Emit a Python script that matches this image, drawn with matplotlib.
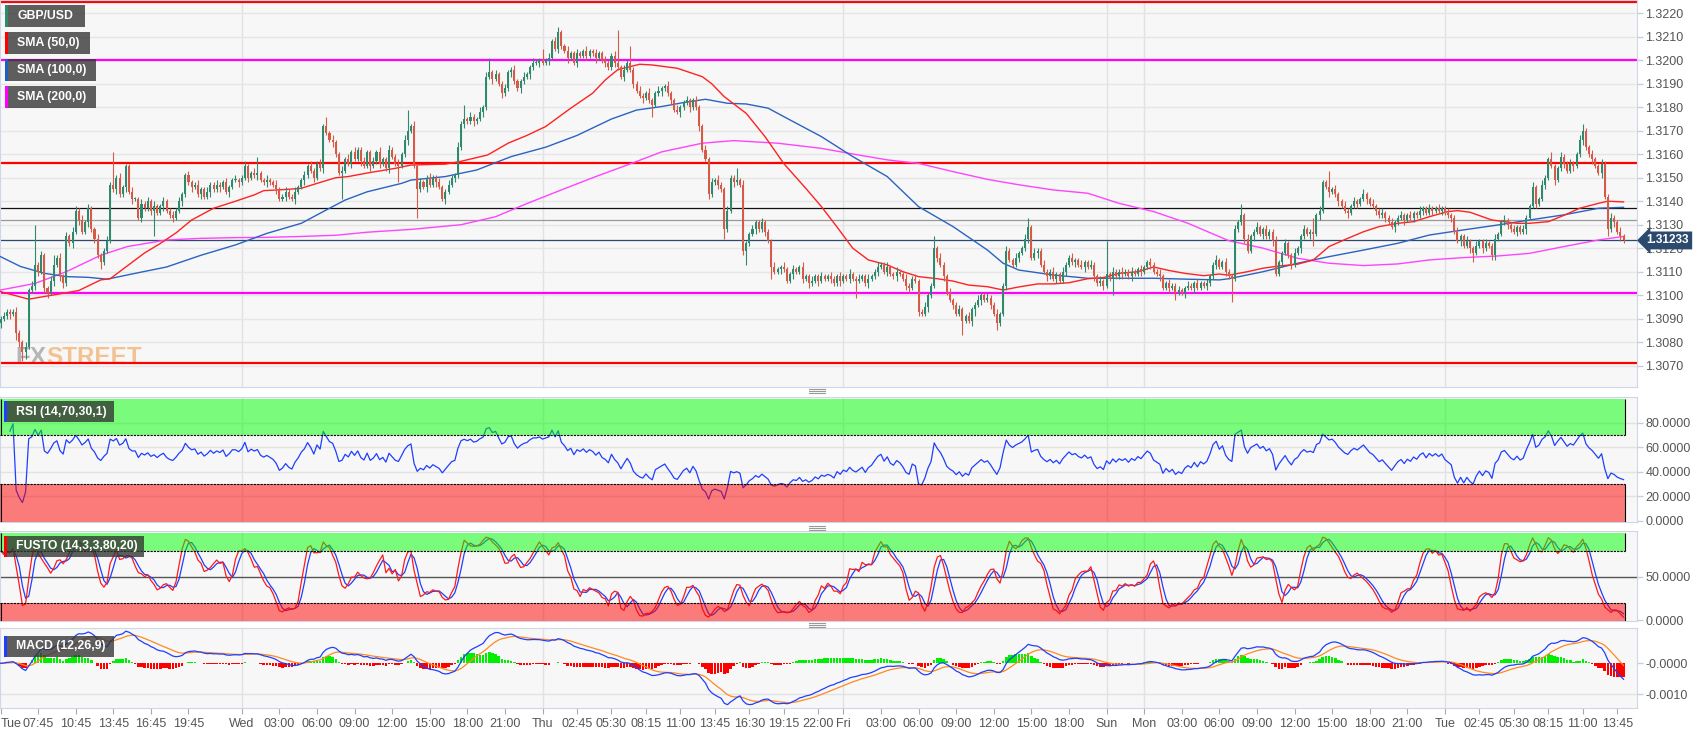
import numpy as np
import pandas as pd
import matplotlib.pyplot as plt
from matplotlib.patches import Rectangle
from matplotlib.lines import Line2D

plt.rcParams['font.family'] = ['Liberation Sans', 'DejaVu Sans']

W, H = 1707, 734

# GBP/USD 15-min candles, prices in pips above 1.3000
first_open = 88
closes = [
    90, 91, 93, 92, 93, 84, 80, 76, 78, 102, 104, 113,
    110, 117, 103, 101, 106, 113, 116, 108, 105, 125, 122, 127,
    136, 132, 127, 131, 137, 128, 124, 117, 114, 119, 123, 147,
    145, 150, 143, 146, 155, 144, 141, 141, 133, 139, 137, 140,
    136, 138, 135, 138, 140, 136, 134, 133, 136, 140, 143, 151,
    148, 146, 147, 143, 145, 142, 144, 147, 145, 147, 146, 148,
    144, 146, 149, 149, 148, 150, 155, 150, 152, 151, 152, 149,
    148, 149, 148, 147, 145, 141, 142, 144, 142, 141, 144, 146,
    149, 151, 155, 153, 150, 156, 154, 172, 169, 166, 165, 160,
    152, 153, 158, 156, 161, 158, 162, 157, 155, 161, 155, 157,
    161, 156, 158, 154, 162, 159, 156, 155, 160, 166, 170, 172,
    155, 145, 148, 146, 150, 147, 150, 148, 146, 141, 144, 147,
    150, 151, 163, 173, 175, 174, 176, 174, 175, 178, 180, 193,
    195, 192, 194, 190, 186, 188, 195, 196, 191, 188, 191, 193,
    194, 197, 199, 199, 200, 199, 200, 201, 208, 205, 212, 206,
    204, 201, 203, 199, 203, 202, 204, 202, 204, 203, 201, 203,
    200, 199, 197, 202, 199, 197, 193, 196, 199, 196, 190, 187,
    185, 184, 186, 183, 181, 186, 187, 188, 189, 186, 183, 179,
    178, 180, 182, 183, 180, 183, 180, 172, 162, 158, 143, 148,
    149, 147, 145, 128, 136, 150, 148, 149, 147, 119, 122, 126,
    128, 131, 128, 131, 127, 123, 112, 110, 111, 112, 111, 106,
    109, 111, 110, 112, 107, 108, 105, 106, 108, 106, 108, 107,
    108, 107, 105, 108, 106, 108, 107, 109, 107, 106, 107, 108,
    105, 107, 108, 110, 112, 113, 110, 112, 109, 108, 110, 109,
    107, 104, 103, 107, 106, 93, 92, 95, 100, 104, 120, 116,
    113, 108, 101, 98, 96, 92, 94, 89, 91, 89, 94, 96,
    98, 100, 98, 99, 96, 92, 88, 92, 104, 119, 115, 113,
    116, 118, 120, 124, 129, 116, 118, 119, 113, 110, 108, 110,
    107, 109, 106, 110, 113, 116, 114, 115, 113, 112, 114, 112,
    113, 108, 105, 106, 104, 109, 107, 110, 108, 110, 109, 110,
    108, 110, 109, 111, 110, 112, 114, 113, 110, 109, 108, 103,
    105, 103, 104, 101, 102, 101, 103, 104, 103, 105, 103, 105,
    104, 105, 108, 113, 115, 112, 114, 110, 108, 107, 128, 131,
    134, 124, 119, 125, 127, 129, 126, 128, 125, 127, 123, 109,
    114, 118, 122, 117, 113, 118, 120, 125, 128, 126, 127, 126,
    134, 136, 148, 146, 144, 145, 143, 140, 138, 136, 135, 138,
    140, 139, 141, 143, 141, 139, 138, 136, 134, 135, 133, 131,
    129, 131, 133, 134, 132, 134, 133, 135, 134, 136, 137, 135,
    137, 136, 137, 136, 137, 135, 134, 133, 127, 123, 125, 121,
    123, 120, 118, 121, 123, 120, 122, 121, 117, 124, 126, 131,
    132, 130, 128, 127, 129, 127, 128, 133, 138, 146, 139, 141,
    147, 150, 158, 155, 149, 154, 159, 156, 153, 156, 155, 160,
    166, 170, 163, 160, 158, 155, 152, 156, 142, 128, 133, 131,
    127, 125, 123.3,
]
upper_wick = [
    1, 2, 1, 1, 1, 2, 1, 1, 2, 1, 2, 17,
    1, 2, 1, 1, 2, 4, 1, 2, 1, 2, 1, 2,
    2, 1, 2, 1, 2, 1, 1, 2, 1, 1, 2, 1,
    14, 1, 2, 1, 1, 1, 2, 1, 1, 2, 1, 2,
    1, 2, 1, 1, 2, 1, 1, 2, 1, 2, 1, 1,
    2, 1, 1, 2, 1, 1, 2, 1, 1, 2, 1, 1,
    2, 1, 1, 2, 1, 1, 2, 1, 1, 2, 7, 1,
    1, 2, 1, 1, 2, 1, 1, 2, 1, 1, 2, 1,
    1, 2, 1, 2, 1, 1, 2, 1, 4, 1, 2, 1,
    1, 2, 1, 2, 1, 2, 1, 1, 2, 1, 1, 2,
    1, 2, 1, 1, 2, 1, 1, 2, 1, 2, 9, 1,
    2, 1, 2, 1, 1, 2, 1, 1, 2, 1, 1, 2,
    1, 1, 2, 1, 6, 1, 2, 1, 1, 2, 1, 2,
    6, 1, 2, 1, 1, 2, 1, 1, 2, 1, 1, 2,
    1, 1, 2, 1, 1, 5, 1, 2, 1, 2, 2, 1,
    1, 2, 1, 1, 2, 1, 1, 2, 1, 1, 2, 1,
    1, 2, 1, 1, 2, 14, 1, 2, 1, 7, 1, 1,
    2, 1, 1, 2, 1, 1, 2, 1, 1, 2, 1, 1,
    2, 1, 1, 2, 1, 1, 2, 1, 1, 2, 1, 2,
    1, 2, 1, 1, 2, 1, 1, 5, 1, 2, 1, 1,
    2, 1, 1, 2, 1, 1, 1, 2, 1, 1, 2, 1,
    1, 2, 1, 1, 2, 1, 1, 2, 1, 1, 2, 1,
    1, 2, 1, 1, 2, 1, 1, 2, 1, 1, 2, 1,
    1, 2, 1, 1, 2, 1, 1, 2, 1, 1, 2, 1,
    1, 2, 1, 1, 2, 1, 1, 2, 1, 1, 5, 1,
    2, 1, 1, 2, 1, 1, 2, 1, 1, 2, 1, 1,
    2, 1, 1, 2, 1, 1, 2, 1, 1, 2, 1, 1,
    2, 1, 1, 2, 4, 1, 2, 1, 1, 2, 1, 1,
    2, 1, 1, 2, 1, 1, 2, 1, 1, 2, 1, 1,
    2, 1, 1, 2, 1, 14, 1, 2, 1, 1, 2, 1,
    1, 2, 1, 1, 2, 1, 1, 2, 1, 1, 2, 1,
    1, 2, 1, 1, 2, 1, 1, 2, 1, 1, 2, 1,
    1, 2, 1, 1, 2, 1, 1, 2, 1, 1, 2, 1,
    5, 1, 2, 1, 1, 2, 1, 1, 2, 1, 1, 2,
    1, 1, 2, 1, 1, 2, 1, 1, 2, 1, 1, 6,
    1, 2, 1, 1, 7, 1, 2, 1, 1, 2, 1, 1,
    2, 1, 1, 2, 1, 1, 2, 1, 1, 2, 1, 1,
    2, 1, 1, 2, 1, 1, 2, 1, 1, 2, 1, 1,
    2, 1, 1, 2, 1, 1, 2, 1, 1, 2, 1, 1,
    2, 1, 1, 2, 1, 1, 2, 1, 1, 2, 1, 1,
    2, 1, 1, 2, 1, 1, 2, 1, 1, 2, 1, 1,
    2, 1, 1, 3, 1, 1, 2, 1, 1, 2, 1, 1,
    2, 3, 1, 1, 2, 1, 1, 2, 1, 1, 2, 1,
    1, 2, 1,
]
lower_wick = [
    2, 1, 1, 2, 1, 3, 2, 4, 3, 1, 1, 2,
    2, 1, 2, 2, 1, 2, 1, 2, 2, 1, 1, 2,
    1, 2, 1, 1, 2, 1, 2, 1, 3, 1, 1, 1,
    1, 2, 1, 1, 2, 1, 2, 1, 1, 2, 1, 1,
    2, 11, 1, 1, 2, 1, 1, 2, 1, 1, 2, 1,
    1, 2, 1, 1, 2, 1, 1, 2, 1, 1, 2, 1,
    1, 2, 1, 1, 2, 1, 1, 2, 1, 1, 2, 1,
    1, 2, 1, 1, 2, 1, 1, 2, 1, 1, 2, 1,
    1, 2, 1, 1, 2, 1, 1, 2, 1, 1, 2, 1,
    1, 11, 1, 1, 2, 1, 1, 2, 1, 1, 2, 1,
    1, 2, 1, 1, 2, 1, 1, 7, 1, 1, 2, 1,
    1, 12, 1, 1, 2, 1, 1, 2, 1, 1, 2, 1,
    1, 2, 1, 1, 2, 1, 1, 2, 1, 1, 2, 1,
    1, 2, 1, 1, 2, 1, 1, 2, 1, 1, 2, 1,
    1, 2, 1, 1, 2, 1, 1, 2, 1, 1, 2, 1,
    1, 2, 1, 1, 2, 1, 1, 2, 1, 1, 2, 1,
    1, 2, 1, 1, 2, 1, 1, 2, 1, 1, 2, 1,
    1, 2, 1, 1, 5, 1, 1, 2, 1, 1, 2, 1,
    1, 2, 1, 1, 2, 1, 1, 2, 1, 1, 2, 1,
    1, 2, 1, 4, 1, 1, 2, 1, 1, 2, 6, 1,
    1, 2, 1, 1, 2, 1, 5, 1, 1, 2, 1, 1,
    1, 2, 1, 1, 2, 1, 2, 1, 1, 2, 1, 1,
    1, 2, 1, 1, 2, 1, 1, 2, 1, 7, 1, 1,
    1, 2, 1, 1, 2, 1, 1, 2, 1, 1, 2, 1,
    1, 2, 2, 1, 1, 2, 1, 1, 2, 1, 1, 2,
    1, 2, 1, 1, 2, 1, 1, 6, 1, 1, 2, 3,
    1, 2, 1, 1, 2, 1, 3, 1, 1, 2, 1, 1,
    1, 2, 1, 1, 2, 1, 1, 2, 1, 1, 2, 1,
    1, 2, 1, 1, 2, 1, 1, 2, 1, 1, 2, 1,
    1, 2, 1, 1, 2, 1, 1, 7, 1, 1, 2, 1,
    1, 2, 1, 1, 2, 1, 1, 2, 1, 1, 2, 1,
    1, 2, 1, 3, 1, 1, 2, 1, 1, 2, 1, 1,
    1, 2, 1, 1, 2, 1, 1, 2, 1, 10, 1, 1,
    1, 2, 1, 1, 2, 1, 1, 2, 1, 1, 2, 1,
    1, 2, 1, 1, 2, 1, 1, 2, 1, 1, 2, 5,
    1, 2, 1, 1, 2, 1, 1, 2, 1, 1, 2, 1,
    1, 2, 1, 1, 2, 1, 1, 2, 1, 1, 2, 1,
    1, 2, 1, 1, 2, 1, 1, 2, 1, 1, 2, 1,
    1, 2, 1, 1, 2, 1, 1, 2, 1, 1, 2, 1,
    1, 2, 4, 1, 1, 2, 1, 1, 2, 2, 1, 1,
    1, 2, 1, 1, 2, 1, 1, 2, 1, 1, 2, 1,
    1, 2, 1, 1, 2, 1, 1, 2, 1, 1, 2, 1,
    1, 2, 1, 1, 2, 1, 1, 2, 1, 3, 1, 2,
    1, 2, 1,
]

# moving averages (candle index, pips above 1.3000)
sma50_x = [0, 9, 20, 25, 32, 35, 41, 46, 51, 56, 61, 68, 75, 81, 84, 91, 96, 102, 107, 111,
           117, 126, 131, 142, 147, 155.5, 162, 168, 174, 182, 189, 193, 197, 204, 208, 216,
           224, 227, 231, 238, 244, 250, 257, 262, 267, 272, 277, 283, 288, 293, 299, 304,
           309, 315, 320, 325, 331, 336, 341, 347, 352, 357, 363, 368, 373, 378, 384, 389,
           392, 398, 403, 408, 414, 419, 424, 430, 435, 440, 446, 451, 456, 462, 465, 469,
           476, 480, 484, 488, 494, 499, 504, 510, 513, 518]
sma50_y = [101.5, 98.3, 100.8, 102, 106.5, 107, 113, 118, 122, 126.5, 132, 137, 140, 142.7,
           144.5, 145, 145.5, 148, 150, 150.5, 152, 154, 155.4, 155.8, 157, 159.7, 164.7, 168,
           171.8, 179.6, 186, 191.6, 196, 198.3, 198, 196.6, 193, 190, 184.5, 177.4, 167.5,
           156, 145.5, 137.7, 129, 120, 115, 112.9, 110, 107.9, 107, 106, 104.3, 103.6, 102.2,
           103.5, 104.8, 104.8, 105.3, 107, 107.5, 109.3, 110, 112, 110.5, 109.3, 108.3, 109,
           108.5, 110, 111.5, 112.4, 113.2, 115, 120.7, 124.2, 127, 129.2, 130.6, 131.3, 133.4,
           135.6, 136, 135.3, 132, 131.3, 130.6, 130.6, 131.3, 134, 137, 139.1, 140, 139.7]
sma100_x = [0, 6.4, 14, 21, 28, 34, 43, 53, 64, 75, 85, 96, 104, 110, 117, 128, 131, 142, 152,
            163, 174, 184, 195, 203, 211, 218, 225, 232, 238, 245, 251, 262, 272, 283, 293,
            304, 315, 320, 325, 336, 347, 357, 368, 379, 389, 392, 403, 414, 424, 435, 446,
            456, 467, 478, 488, 499, 510, 518]
sma100_y = [116.4, 112.2, 109.3, 107.9, 107.6, 106.8, 109.3, 112, 117, 121.4, 126.3, 130.6,
            136.3, 140.5, 144, 147.6, 149, 150.5, 153.3, 159, 163, 168, 175, 178.8, 180.3, 182,
            183.4, 181.7, 181.4, 179.6, 175.3, 167.5, 159, 150.5, 137.7, 129.2, 119.2, 113.6,
            110.7, 108.6, 107.2, 107.2, 107.2, 106.8, 106.5, 107, 110, 113.6, 116.4, 119.2,
            122.1, 125.6, 127.8, 129.9, 132, 134.2, 137, 137.4]
sma200_x = [0, 11, 21, 32, 40.5, 53, 64, 75, 85, 96, 107, 117, 131, 147, 158, 168, 179, 190,
            200, 211, 224, 234, 248, 262, 272, 283, 293, 304, 315, 325, 336, 347, 357, 368,
            379, 392, 403, 414, 424, 435, 446, 456, 467, 478, 488, 499, 510, 518]
sma200_y = [102.2, 105, 110, 117, 120.7, 123.5, 124.2, 124.5, 124.6, 125, 125.5, 126.8, 128,
            130, 133.4, 139, 144.8, 150.5, 155.4, 161, 164.7, 165.8, 164.7, 162.5, 160.1,
            157.6, 156.1, 152.6, 149.3, 147, 144.8, 143.4, 139.1, 135.6, 130.6, 123.2, 120,
            115.7, 113.6, 112.6, 113.3, 115, 116, 116.7, 117.8, 120.7, 123.5, 125]

# horizontal levels
red_levels = [1.3225, 1.31564, 1.30711]
magenta_levels = [1.3200, 1.3101]
black_level = 1.3137
gray_level = 1.3132
last_price = 1.31233

# candle times (two sessions: before and after the weekend)
times = pd.date_range("2018-09-11 04:45", "2018-09-14 20:45", freq="15min").append(
    pd.date_range("2018-09-16 21:00", "2018-09-18 14:15", freq="15min"))
tick_times = [
    "2018-09-11 04:45", "2018-09-11 07:45", "2018-09-11 10:45", "2018-09-11 13:45",
    "2018-09-11 16:45", "2018-09-11 19:45",
    "2018-09-12 00:00", "2018-09-12 03:00", "2018-09-12 06:00", "2018-09-12 09:00",
    "2018-09-12 12:00", "2018-09-12 15:00", "2018-09-12 18:00", "2018-09-12 21:00",
    "2018-09-13 00:00", "2018-09-13 02:45", "2018-09-13 05:30", "2018-09-13 08:15",
    "2018-09-13 11:00", "2018-09-13 13:45", "2018-09-13 16:30", "2018-09-13 19:15",
    "2018-09-13 22:00",
    "2018-09-14 00:00", "2018-09-14 03:00", "2018-09-14 06:00", "2018-09-14 09:00",
    "2018-09-14 12:00", "2018-09-14 15:00", "2018-09-14 18:00",
    "2018-09-16 21:00",
    "2018-09-17 00:00", "2018-09-17 03:00", "2018-09-17 06:00", "2018-09-17 09:00",
    "2018-09-17 12:00", "2018-09-17 15:00", "2018-09-17 18:00", "2018-09-17 21:00",
    "2018-09-18 00:00", "2018-09-18 02:45", "2018-09-18 05:30", "2018-09-18 08:15",
    "2018-09-18 11:00", "2018-09-18 13:45",
]

GREEN = '#2f8a6d'
RED = '#d65a48'
BLUE = '#1f3fff'

# ---- prepare series
close = 1.3 + np.array(closes) / 1e4
open_ = np.r_[1.3 + first_open / 1e4, close[:-1]]
high = np.maximum(open_, close) + np.array(upper_wick) / 1e4
low = np.minimum(open_, close) - np.array(lower_wick) / 1e4
x = np.arange(len(close))
last_x = x[-1]

c = pd.Series(close)
delta = c.diff()
gain = delta.clip(lower=0).ewm(alpha=1 / 14, adjust=True).mean()
loss = (-delta.clip(upper=0)).ewm(alpha=1 / 14, adjust=True).mean()
rsi = (100 - 100 / (1 + gain / loss)).to_numpy()
rsi[:3] = np.nan

hh = pd.Series(high).rolling(14, min_periods=1).max()
ll = pd.Series(low).rolling(14, min_periods=1).min()
stoch_k = (100 * (c - ll) / (hh - ll)).rolling(3, min_periods=1).mean()
stoch_d = stoch_k.rolling(3, min_periods=1).mean()

macd = c.ewm(span=12, adjust=False).mean() - c.ewm(span=26, adjust=False).mean()
signal = macd.ewm(span=9, adjust=False).mean()
hist = macd - signal

tick_pos = times.get_indexer(pd.to_datetime(tick_times))
new_day = np.r_[True, times.date[1:] != times.date[:-1]]
tick_labels = [times[p].strftime('%a') if new_day[p] else times[p].strftime('%H:%M') for p in tick_pos]
day_pos = np.flatnonzero(new_day)[1:]

# ---- figure
fig = plt.figure(figsize=(W / 100, H / 100), dpi=100)
fig.patch.set_facecolor('white')


def panel(top, bottom):
    ax = fig.add_axes([0, 1 - bottom / H, 1637 / W, (bottom - top) / H])
    ax.set_facecolor('#f7f7f7')
    ax.set_xlim(-0.16, 522.3)
    for s in ax.spines.values():
        s.set_color('#cfd6e6')
    ax.yaxis.tick_right()
    ax.tick_params(axis='y', length=4, width=1, color='#c5cde0',
                   labelcolor='#555555', labelsize=9, pad=2)
    ax.tick_params(axis='x', bottom=False, labelbottom=False)
    for d in day_pos:
        ax.axvline(d, color='#e2e2e2', lw=1, zorder=0)
    return ax


def label_box(x0, y0, w, h, text, stripe):
    fig.add_artist(Rectangle((x0 / W, 1 - (y0 + h) / H), w / W, h / H,
                             transform=fig.transFigure, fc='#333333', alpha=0.78,
                             ec='none', zorder=10))
    fig.add_artist(Rectangle((x0 / W, 1 - (y0 + h) / H), 3 / W, h / H,
                             transform=fig.transFigure, fc=stripe, ec='none', zorder=11))
    fig.text((x0 + 12) / W, 1 - (y0 + h / 2) / H, text, color='white', fontsize=8.8,
             fontweight='bold', va='center', ha='left', zorder=12)


# main price panel
ax = panel(0, 387)
ax.set_ylim(1.306091, 1.322566)
yt = np.round(np.arange(1.3070, 1.32201, 0.001), 4)
ax.set_yticks(yt)
ax.set_yticklabels([f"{v:.4f}" for v in yt])
for v in yt:
    ax.axhline(v, color='#e6e6e6', lw=1, zorder=0)

wm_font = ['Liberation Sans Narrow', 'Liberation Sans']
fx = ax.text(15 / W, 1 - 369 / H, "FX", transform=fig.transFigure, fontsize=17.5,
             fontweight='bold', color='#8a8a8a', alpha=0.6, va='bottom', ha='left',
             family=wm_font, zorder=1)
ax.annotate("STREET", xy=(1, 0), xycoords=fx, fontsize=17.5, fontweight='bold',
            color='#f0a050', alpha=0.6, va='bottom', ha='left', family=wm_font, zorder=1)

for lv in red_levels:
    ax.axhline(lv, color='#ff0000', lw=1.6, zorder=2)
for lv in magenta_levels:
    ax.axhline(lv, color='#ff00ff', lw=1.6, zorder=2)
ax.axhline(black_level, color='#111111', lw=0.9, zorder=2)
ax.axhline(gray_level, color='#999999', lw=0.9, zorder=2)
ax.axhline(last_price, color='#2c4a6e', lw=0.9, zorder=2)

ax.plot(sma200_x, 1.3 + np.array(sma200_y) / 1e4, color='#ff44ff', lw=1.0, zorder=3)
ax.plot(sma100_x, 1.3 + np.array(sma100_y) / 1e4, color='#2a63c0', lw=1.0, zorder=3)
ax.plot(sma50_x, 1.3 + np.array(sma50_y) / 1e4, color='#ff2222', lw=1.0, zorder=3)

cols = np.where(close >= open_, GREEN, RED)
ax.vlines(x, low, high, colors=cols, lw=0.8, zorder=4)
ax.bar(x, np.maximum(np.abs(close - open_), 0.00003), bottom=np.minimum(open_, close),
       width=0.65, color=cols, lw=0, zorder=5)

ax.annotate(f"{last_price:.5f}", xy=(1.0, last_price), xycoords=('axes fraction', 'data'),
            xytext=(7, 0), textcoords='offset points', ha='left', va='center',
            color='white', fontsize=8.5, fontweight='bold', annotation_clip=False,
            bbox=dict(boxstyle='larrow,pad=0.25', fc='#2b4a6e', ec='none'))

# RSI panel
ax_r = panel(397, 522)
ax_r.set_ylim(-1.06, 101)
ax_r.set_yticks([0, 20, 40, 60, 80])
ax_r.set_yticklabels([f"{v:.4f}" for v in [0, 20, 40, 60, 80]])
for v in [20, 40, 60, 80]:
    ax_r.axhline(v, color='#e2e2e2', lw=1, zorder=0)
ax_r.plot(x, rsi, color=BLUE, lw=0.9, zorder=2)
x_end = last_x + 0.5
ax_r.add_patch(Rectangle((-0.16, 70), x_end + 0.16, 29.5, fc='#00ff00', alpha=0.5, ec='none', zorder=3))
ax_r.add_patch(Rectangle((-0.16, -1), x_end + 0.16, 31, fc='#ff0000', alpha=0.5, ec='none', zorder=3))
ax_r.plot([-0.16, x_end], [70, 70], color='k', lw=0.8, ls=(0, (2, 1)), zorder=4)
ax_r.plot([-0.16, x_end], [30, 30], color='k', lw=0.8, ls=(0, (2, 1)), zorder=4)
ax_r.vlines([0, x_end], 70, 99.5, color='k', lw=0.8, zorder=4)
ax_r.vlines([0, x_end], -1, 30, color='k', lw=0.8, zorder=4)

# full stochastic panel
ax_s = panel(531, 621)
ax_s.set_ylim(-1.15, 102.8)
ax_s.set_yticks([0, 50])
ax_s.set_yticklabels(["0.0000", "50.0000"])
ax_s.axhline(50, color='#555555', lw=1, zorder=1)
ax_s.plot(x, stoch_d, color=BLUE, lw=0.9, zorder=2)
ax_s.plot(x, stoch_k, color='#ff1a1a', lw=0.9, zorder=2)
ax_s.add_patch(Rectangle((-0.16, 80), x_end + 0.16, 20, fc='#00ff00', alpha=0.5, ec='none', zorder=3))
ax_s.add_patch(Rectangle((-0.16, -1), x_end + 0.16, 21, fc='#ff0000', alpha=0.5, ec='none', zorder=3))
ax_s.plot([-0.16, x_end], [80, 80], color='k', lw=0.8, ls=(0, (2, 1)), zorder=4)
ax_s.plot([-0.16, x_end], [20, 20], color='k', lw=0.8, ls=(0, (2, 1)), zorder=4)
ax_s.vlines([0, x_end], 80, 100, color='k', lw=0.8, zorder=4)
ax_s.vlines([0, x_end], -1, 20, color='k', lw=0.8, zorder=4)

# MACD panel
ax_m = panel(628, 708)
ax_m.set_ylim(-0.001456, 0.00115)
ax_m.set_yticks([-0.001, 0])
ax_m.set_yticklabels(["-0.0010", "-0.0000"])
ax_m.axhline(-0.001, color='#e2e2e2', lw=1, zorder=0)
ax_m.bar(x, hist, width=0.8, color=np.where(hist >= 0, '#00ee00', '#ff0000'), lw=0, zorder=2)
ax_m.plot(x, signal, color='#ff8a20', lw=0.9, zorder=3)
ax_m.plot(x, macd, color=BLUE, lw=0.9, zorder=3)
ax_m.set_xticks(tick_pos)
ax_m.set_xticklabels(tick_labels)
ax_m.tick_params(axis='x', bottom=True, labelbottom=True, length=4, color='#aaaaaa',
                 labelcolor='#555555', labelsize=9, pad=3)
ax_m.get_xticklabels()[0].set_ha('left')

# indicator captions
label_box(5, 5, 80, 22, "GBP/USD", GREEN)
label_box(5, 32, 85, 22, "SMA (50,0)", '#ff0000')
label_box(5, 59, 91, 22, "SMA (100,0)", '#1f5fbf')
label_box(5, 86, 91, 22, "SMA (200,0)", '#ff00ff')
label_box(4, 401, 110, 21, "RSI (14,70,30,1)", BLUE)
label_box(4, 536, 140, 21, "FUSTO (14,3,3,80,20)", '#ff0000')
label_box(4, 636, 110, 21, "MACD (12,26,9)", BLUE)

# panel drag handles
for yy in (391, 528, 625):
    for k in (-2, 0, 2):
        fig.add_artist(Line2D([809 / W, 825 / W], [1 - (yy + k) / H] * 2,
                              color='#999999', lw=0.8))

fig.savefig("out.png", dpi=100, facecolor='white')
